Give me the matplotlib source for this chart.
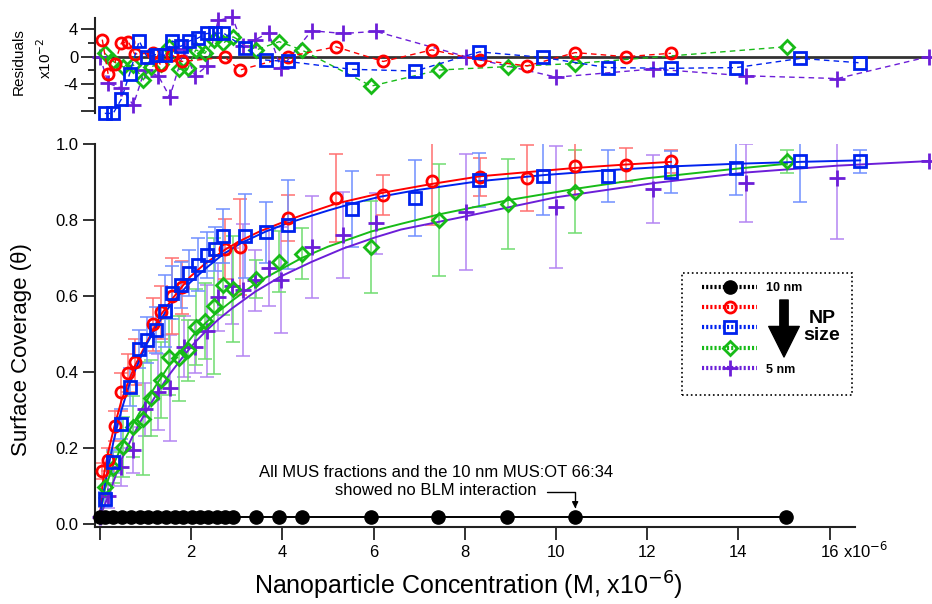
import matplotlib
matplotlib.use("Agg")
import matplotlib.pyplot as plt
from matplotlib.lines import Line2D
from matplotlib.patches import Rectangle
from matplotlib.ticker import FixedLocator, FormatStrFormatter
from matplotlib.transforms import blended_transform_factory

plt.rcParams["font.family"] = ["Liberation Sans", "DejaVu Sans"]
plt.rcParams["axes.unicode_minus"] = False


# ─────────────────────────────────────────────────────────────
#  Data (concentration in 1e-6 M, coverage theta, residuals x1e-2)
# ─────────────────────────────────────────────────────────────
black_x = [0.0, 0.11, 0.29, 0.48, 0.67, 0.87, 1.06, 1.25, 1.44, 1.64, 1.82, 2.02, 2.20,
           2.37, 2.56, 2.74, 2.92, 3.43, 3.92, 4.42, 5.94, 7.42, 8.92, 10.42, 15.04]
black_y = [0.02, 0.02, 0.02, 0.02, 0.02, 0.02, 0.02, 0.02, 0.02, 0.02, 0.02, 0.02, 0.02,
           0.02, 0.02, 0.02, 0.02, 0.02, 0.02, 0.02, 0.02, 0.02, 0.02, 0.02, 0.02]

red_x = [0.05, 0.18, 0.32, 0.47, 0.62, 0.76, 1.16, 1.33, 1.57, 1.79, 2.74, 3.07, 4.13,
         5.17, 6.21, 7.28, 8.33, 9.37, 10.42, 11.53, 12.52]
red_y = [0.140, 0.170, 0.258, 0.347, 0.399, 0.426, 0.526, 0.557, 0.600, 0.623, 0.724,
         0.729, 0.805, 0.857, 0.865, 0.903, 0.912, 0.910, 0.942, 0.945, 0.955]
red_err = [0.02, 0.03, 0.04, 0.05, 0.05, 0.06, 0.07, 0.07, 0.10, 0.07, 0.08, 0.127, 0.06,
           0.116, 0.053, 0.116, 0.05, 0.087, 0.075, 0.045, 0.03]
red_res = [2.5, -2.6, -1.0, 2.0, 2.2, 0.4, 0.5, -1.2, 0.3, -0.7, -0.1, -1.95, 0.0,
           1.45, -0.7, 1.0, -0.5, -1.35, 0.6, 0.0, 0.5]

blue_x = [0.105, 0.29, 0.47, 0.65, 0.86, 1.03, 1.22, 1.42, 1.59, 1.77, 1.96, 2.14, 2.34,
          2.53, 2.70, 3.17, 3.64, 4.12, 5.52, 6.91, 8.32, 9.71, 11.13, 12.53, 13.95,
          15.36, 16.67]
blue_y = [0.066, 0.164, 0.263, 0.361, 0.461, 0.484, 0.511, 0.561, 0.609, 0.629, 0.660,
          0.683, 0.708, 0.723, 0.758, 0.758, 0.768, 0.787, 0.828, 0.857, 0.905, 0.917,
          0.916, 0.927, 0.936, 0.955, 0.955]
blue_err = [0.02, 0.03, 0.04, 0.05, 0.05, 0.06, 0.06, 0.094, 0.07, 0.06, 0.06, 0.07, 0.06,
            0.058, 0.07, 0.11, 0.08, 0.117, 0.10, 0.10, 0.072, 0.105, 0.068, 0.055, 0.07,
            0.107, 0.03]
blue_res = [-8.3, -8.3, -6.2, -2.5, 2.3, 0.0, 0.3, 0.2, 2.3, 1.5, 2.3, 2.7, 3.4, 3.4, 3.5,
            1.3, -0.5, -0.7, -1.85, -2.1, 0.7, -0.1, -1.6, -1.7, -1.6, -0.25, -0.9]

green_x = [0.105, 0.29, 0.51, 0.73, 0.95, 1.11, 1.33, 1.52, 1.74, 1.93, 2.10, 2.30, 2.50,
           2.70, 2.92, 3.43, 3.93, 4.42, 5.95, 7.44, 8.94, 10.42, 15.06]
green_y = [0.098, 0.149, 0.203, 0.256, 0.278, 0.332, 0.379, 0.440, 0.436, 0.458, 0.519,
           0.535, 0.574, 0.629, 0.618, 0.645, 0.690, 0.712, 0.730, 0.800, 0.842, 0.875,
           0.955]
green_err = [0.03, 0.04, 0.08, 0.08, 0.148, 0.10, 0.10, 0.10, 0.112, 0.08, 0.10, 0.10,
             0.18, 0.08, 0.14, 0.05, 0.08, 0.068, 0.121, 0.148, 0.118, 0.108, 0.03]
green_res = [0.5, -0.7, -1.5, -1.2, -3.4, -1.5, -1.0, 1.4, -1.85, -1.7, 1.0, 0.5, 2.4,
             2.0, 2.9, 1.0, 2.2, 1.0, -4.3, -1.95, -1.45, -1.0, 1.46]

purple_x = [0.0, 0.18, 0.47, 0.73, 0.98, 1.28, 1.53, 1.85, 2.08, 2.34, 2.59, 2.90, 3.14,
            3.41, 3.70, 3.97, 4.64, 5.33, 6.05, 8.03, 10.01, 12.13, 14.16, 16.17, 18.17]
purple_y = [0.02, 0.074, 0.151, 0.195, 0.302, 0.347, 0.359, 0.467, 0.467, 0.508, 0.598,
            0.626, 0.616, 0.642, 0.673, 0.642, 0.730, 0.761, 0.791, 0.822, 0.835, 0.881,
            0.897, 0.910, 0.955]
purple_err = [0.0, 0.03, 0.05, 0.06, 0.07, 0.10, 0.14, 0.08, 0.07, 0.12, 0.09, 0.10, 0.173,
              0.08, 0.10, 0.14, 0.134, 0.114, 0.081, 0.153, 0.161, 0.09, 0.103, 0.16, 0.0]
purple_res = [0.0, -3.9, -4.6, -7.1, -1.95, -2.8, -5.9, 1.1, -2.8, -1.4, 5.3, 5.8, 1.6,
              2.5, 3.5, -1.7, 3.8, 3.4, 3.7, 0.0, -3.0, -1.8, -2.8, -3.2, 0.0]

# fitted isotherms
red_fit_x = [0.0, 0.05, 0.1, 0.18, 0.3, 0.47, 0.62, 0.76, 0.95, 1.16, 1.33, 1.6, 1.97,
             2.3, 2.74, 3.07, 3.5, 4.13, 4.6, 5.17, 6.21, 7.28, 8.33, 9.37, 10.42,
             11.53, 12.52]
red_fit_y = [0.02, 0.10, 0.14, 0.19, 0.25, 0.325, 0.375, 0.415, 0.46, 0.51, 0.55, 0.595,
             0.65, 0.685, 0.722, 0.745, 0.77, 0.80, 0.82, 0.843, 0.872, 0.895, 0.915,
             0.926, 0.937, 0.946, 0.953]
blue_fit_x = [0.0, 0.1, 0.2, 0.3, 0.47, 0.65, 0.86, 1.03, 1.24, 1.42, 1.6, 1.97, 2.34,
              2.7, 3.1, 3.64, 4.12, 5.0, 5.52, 6.13, 6.91, 8.3, 9.71, 11.13, 12.53,
              13.95, 15.36, 16.67]
blue_fit_y = [0.02, 0.10, 0.16, 0.22, 0.30, 0.37, 0.43, 0.475, 0.52, 0.555, 0.585, 0.635,
              0.675, 0.71, 0.74, 0.77, 0.792, 0.825, 0.843, 0.861, 0.878, 0.902, 0.918,
              0.931, 0.941, 0.948, 0.953, 0.957]
green_fit_x = [0.0, 0.1, 0.29, 0.51, 0.73, 0.95, 1.2, 1.5, 1.8, 2.1, 2.5, 2.92, 3.43,
               3.93, 4.42, 5.0, 5.95, 6.6, 7.44, 8.94, 10.42, 12.0, 13.95, 15.06]
green_fit_y = [0.02, 0.09, 0.155, 0.215, 0.265, 0.31, 0.36, 0.415, 0.46, 0.505, 0.55,
               0.59, 0.635, 0.668, 0.70, 0.73, 0.77, 0.79, 0.815, 0.852, 0.882, 0.91,
               0.935, 0.948]
purple_fit_x = [0.0, 0.2, 0.47, 0.73, 0.98, 1.28, 1.53, 1.85, 2.08, 2.34, 2.59, 2.9,
                3.41, 3.97, 4.64, 5.33, 6.05, 6.6, 8.03, 10.01, 12.13, 14.16, 16.17, 18.17]
purple_fit_y = [0.02, 0.08, 0.17, 0.235, 0.29, 0.35, 0.395, 0.445, 0.478, 0.51, 0.538,
                0.568, 0.612, 0.652, 0.69, 0.725, 0.755, 0.775, 0.81, 0.86, 0.897, 0.925,
                0.943, 0.955]

x_ticks = [0, 2, 4, 6, 8, 10, 12, 14, 16]
x_tick_labels = ["", "2", "4", "6", "8", "10", "12", "14", "16"]
y_ticks = [0.0, 0.2, 0.4, 0.6, 0.8, 1.0]
res_ticks = [-8, -4, 0, 4]
res_tick_labels = ["", "-4", "0", "4"]
legend_labels = ["10 nm", "", "", "", "5 nm"]


# ─────────────────────────────────────────────────────────────
#  Styles
# ─────────────────────────────────────────────────────────────
RED, BLUE, GREEN, PURPLE = "#ff0000", "#0022ee", "#17bb17", "#6c1ed8"
RED_L, BLUE_L, GREEN_L, PURPLE_L = "#ff7070", "#7090ff", "#70dd70", "#b485f2"

series = [
    # x, y, err, res, fit_x, fit_y, colour, light colour, marker, size
    (purple_x, purple_y, purple_err, purple_res, purple_fit_x, purple_fit_y,
     PURPLE, PURPLE_L, "+", 11),
    (green_x, green_y, green_err, green_res, green_fit_x, green_fit_y,
     GREEN, GREEN_L, "D", 7.5),
    (red_x, red_y, red_err, red_res, red_fit_x, red_fit_y, RED, RED_L, "o", 8),
    (blue_x, blue_y, blue_err, blue_res, blue_fit_x, blue_fit_y, BLUE, BLUE_L, "s", 8),
]


def marker_kw(colour, marker, size):
    face = colour if marker == "+" else "none"
    return dict(marker=marker, markersize=size, markerfacecolor=face,
                markeredgecolor=colour, markeredgewidth=2.0)


# ─────────────────────────────────────────────────────────────
#  Figure and axes
# ─────────────────────────────────────────────────────────────
fig = plt.figure(figsize=(9.32, 6.04), dpi=100)
ax = fig.add_axes([0.1019, 0.127, 0.8959, 0.6346])
ax_r = fig.add_axes([0.1019, 0.8123, 0.8959, 0.1583])

x_lim = (-0.11, 18.2)

# main panel
for xs, ys, errs, res, fx, fy, col, col_l, mk, ms in series:
    ax.errorbar(xs, ys, yerr=errs, fmt="none", ecolor=col_l, elinewidth=1.1,
                capsize=5, capthick=1.1, zorder=1)
for xs, ys, errs, res, fx, fy, col, col_l, mk, ms in series:
    ax.plot(fx, fy, color=col, lw=1.4, zorder=2)
for xs, ys, errs, res, fx, fy, col, col_l, mk, ms in series:
    ax.plot(xs, ys, linestyle="none", zorder=3, clip_on=False, **marker_kw(col, mk, ms))

ax.plot(black_x, black_y, color="black", lw=1.4, marker="o", markersize=9.5,
        markerfacecolor="black", markeredgecolor="black", zorder=4, clip_on=False)

ax.set_xlim(*x_lim)
ax.set_ylim(-0.008, 1.0)
ax.spines["top"].set_visible(False)
ax.spines["right"].set_visible(False)
ax.spines["bottom"].set_bounds(x_lim[0], 16.55)
for sp in ("left", "bottom"):
    ax.spines[sp].set_linewidth(1.5)
    ax.spines[sp].set_color("#222222")
ax.xaxis.set_major_locator(FixedLocator(x_ticks))
ax.set_xticklabels(x_tick_labels)
ax.yaxis.set_major_locator(FixedLocator(y_ticks))
ax.yaxis.set_major_formatter(FormatStrFormatter("%.1f"))
ax.tick_params(axis="both", direction="out", length=9, width=1.3, labelsize=12,
               colors="#222222", labelcolor="black")
ax.tick_params(axis="x", pad=4)
ax.tick_params(axis="y", pad=3)

trans = blended_transform_factory(ax.transData, ax.transAxes)
ax.text(16.3, -0.080, "x10$^{-6}$", transform=trans, ha="left", va="baseline",
        fontsize=12)

ax.text(7.37, 0.1126, "All MUS fractions and the 10 nm MUS:OT 66:34\nshowed no BLM interaction",
        ha="center", va="center", fontsize=12, linespacing=1.25)
ax.annotate("", xy=(10.42, 0.042), xytext=(9.8, 0.085),
            arrowprops=dict(arrowstyle="-|>", connectionstyle="angle,angleA=0,angleB=90,rad=0",
                            color="black", lw=1.0, shrinkA=0, shrinkB=0,
                            mutation_scale=9))

# residual panel
ax_r.axhline(0, color="#333333", lw=2.0, zorder=0)
for xs, ys, errs, res, fx, fy, col, col_l, mk, ms in series:
    ax_r.plot(xs, res, color=col, lw=1.0, linestyle=(0, (4, 3)), clip_on=False,
              zorder=2, **marker_kw(col, mk, ms))
ax_r.set_xlim(*x_lim)
ax_r.set_ylim(-8.3, 5.7)
for sp in ("top", "right", "bottom"):
    ax_r.spines[sp].set_visible(False)
ax_r.spines["left"].set_linewidth(1.5)
ax_r.spines["left"].set_color("#222222")
ax_r.set_xticks([])
ax_r.yaxis.set_major_locator(FixedLocator(res_ticks))
ax_r.set_yticklabels(res_tick_labels)
ax_r.yaxis.set_minor_locator(FixedLocator([-6, -2, 2]))
ax_r.tick_params(axis="y", which="major", direction="out", length=10, width=1.3,
                 labelsize=12, pad=2, colors="#222222", labelcolor="black")
ax_r.tick_params(axis="y", which="minor", direction="out", length=5, width=1.3,
                 colors="#222222")

# ─────────────────────────────────────────────────────────────
#  Labels
# ─────────────────────────────────────────────────────────────
fig.text(22 / 932, 1 - 350 / 604, "Surface Coverage (θ)", rotation=90,
         ha="center", va="center", fontsize=16)
fig.text(468 / 932, 1 - 586 / 604, "Nanoparticle Concentration (M, x10$^{-6}$)",
         ha="center", va="center", fontsize=18)
fig.text(19 / 932, 1 - 62 / 604, "Residuals", rotation=90, ha="center", va="center",
         fontsize=11)
fig.text(45 / 932, 1 - 58 / 604, "x10$^{-2}$", rotation=90, ha="center", va="center",
         fontsize=11)

# ─────────────────────────────────────────────────────────────
#  Legend
# ─────────────────────────────────────────────────────────────
dotted = (0, (0.5, 0.5))
handles = [Line2D([], [], color="black", lw=3, linestyle=dotted, marker="o", markersize=9.5,
                  markerfacecolor="black", markeredgecolor="black")]
for col, mk, ms in ((RED, "o", 8), (BLUE, "s", 8), (GREEN, "D", 7.5), (PURPLE, "+", 11)):
    handles.append(Line2D([], [], color=col, lw=3, linestyle=dotted, **marker_kw(col, mk, ms)))

fig.legend(handles, legend_labels, loc="upper left", bbox_to_anchor=(702 / 932, 1 - 282 / 604),
           frameon=False, borderpad=0, borderaxespad=0, handlelength=4.4, handletextpad=0.75,
           labelspacing=0.67, prop=dict(weight="bold", size=9))
fig.patches.append(Rectangle((681.7 / 932, 1 - 395 / 604), 170 / 932, 121.7 / 604,
                             transform=fig.transFigure, fill=False, edgecolor="black",
                             linestyle=":", lw=1.2))
fig.text(822 / 932, 1 - 327 / 604, "NP\nsize", ha="center", va="center", fontsize=14,
         fontweight="bold", linespacing=1.05)
ax.annotate("", xy=(784 / 932, 1 - 357 / 604), xytext=(784 / 932, 1 - 300 / 604),
            xycoords="figure fraction", textcoords="figure fraction",
            arrowprops=dict(arrowstyle="simple,head_length=1.1,head_width=1.1,tail_width=0.3",
                            color="black", mutation_scale=20, shrinkA=0, shrinkB=0))

fig.savefig("out.png", dpi=100)
